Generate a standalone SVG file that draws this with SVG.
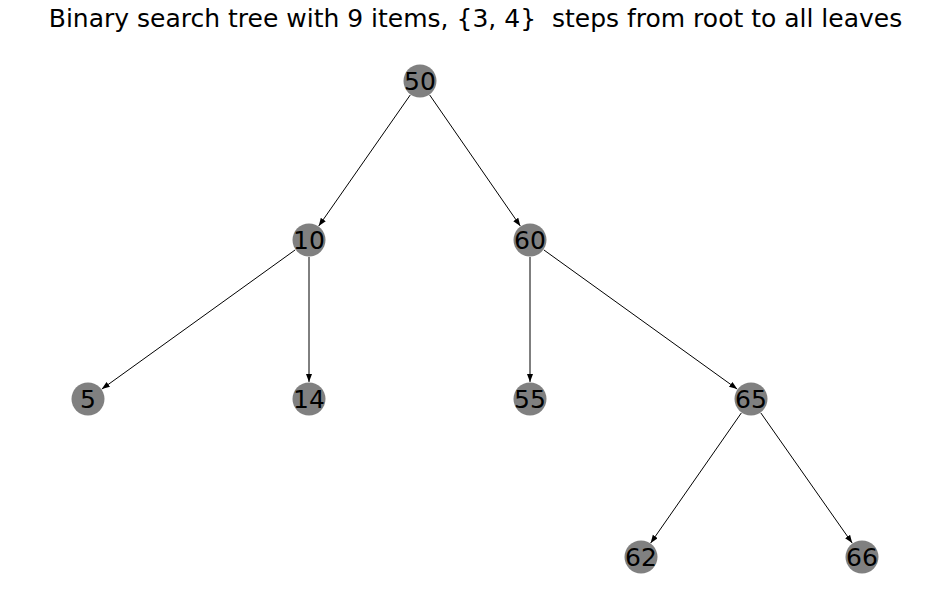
<svg xmlns="http://www.w3.org/2000/svg" width="950" height="615" viewBox="0 0 950 615">
<defs>
<marker id="arr" markerUnits="userSpaceOnUse" markerWidth="9" markerHeight="7" refX="8" refY="3" orient="auto">
<path d="M0,0 L8,3 L0,6 Z" fill="#000"/>
</marker>
<style>
.n circle{fill:#808080}
.n text{font-family:"DejaVu Sans",sans-serif;font-size:25px;fill:#000;text-anchor:middle;dominant-baseline:central}
.e line{stroke:#000;stroke-width:1;marker-end:url(#arr)}
.t{font-family:"DejaVu Sans",sans-serif;font-size:25px;fill:#000;text-anchor:middle;white-space:pre}
</style>
</defs>
<rect width="950" height="615" fill="#fff"/>
<text class="t" x="475.5" y="27" xml:space="preserve">Binary search tree with 9 items, {3, 4}  steps from root to all leaves</text>
<g id="edges" class="e">
<line x1="410.3" y1="94.9" x2="318.7" y2="226.1"/>
<line x1="429.7" y1="95.0" x2="520.3" y2="226.0"/>
<line x1="295.2" y1="249.9" x2="101.8" y2="389.1"/>
<line x1="309" y1="257" x2="309" y2="382"/>
<line x1="530" y1="257" x2="530" y2="382"/>
<line x1="543.8" y1="249.9" x2="737.2" y2="389.1"/>
<line x1="741.3" y1="413.0" x2="650.7" y2="543.0"/>
<line x1="760.8" y1="412.9" x2="852.2" y2="543.1"/>
</g>
<g id="n50" class="n"><circle cx="420" cy="81" r="16.5"/><text x="420" y="81">50</text></g>
<g id="n10" class="n"><circle cx="309" cy="240" r="16.5"/><text x="309" y="240">10</text></g>
<g id="n60" class="n"><circle cx="530" cy="240" r="16.5"/><text x="530" y="240">60</text></g>
<g id="n5" class="n"><circle cx="88" cy="399" r="16.5"/><text x="88" y="399">5</text></g>
<g id="n14" class="n"><circle cx="309" cy="399" r="16.5"/><text x="309" y="399">14</text></g>
<g id="n55" class="n"><circle cx="530" cy="399" r="16.5"/><text x="530" y="399">55</text></g>
<g id="n65" class="n"><circle cx="751" cy="399" r="16.5"/><text x="751" y="399">65</text></g>
<g id="n62" class="n"><circle cx="641" cy="557" r="16.5"/><text x="641" y="557">62</text></g>
<g id="n66" class="n"><circle cx="862" cy="557" r="16.5"/><text x="862" y="557">66</text></g>
</svg>
